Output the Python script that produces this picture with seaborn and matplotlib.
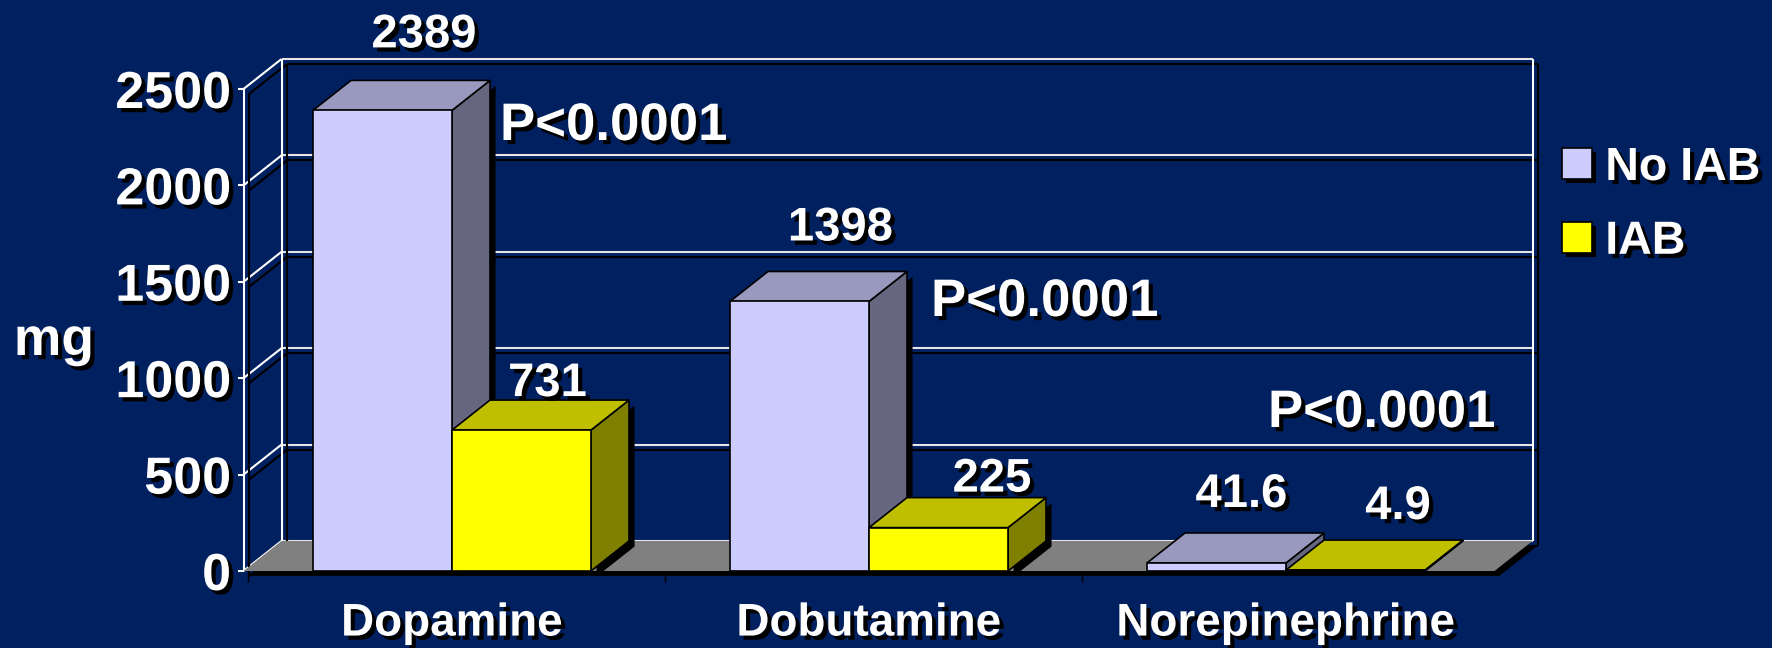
import matplotlib
matplotlib.use("Agg")
import matplotlib.pyplot as plt
import matplotlib.patheffects as pe
from matplotlib.patches import Polygon
import pandas as pd
import seaborn as sns

drugs = ["Dopamine", "Dobutamine", "Norepinephrine"]
groups = ["No IAB", "IAB"]
no_iab = [2389, 1398, 41.6]
iab = [731, 225, 4.9]
no_iab_labels = ["2389", "1398", "41.6"]
iab_labels = ["731", "225", "4.9"]
y_ticks = [0, 500, 1000, 1500, 2000, 2500]
p_values = ["P<0.0001", "P<0.0001", "P<0.0001"]

W, H = 1772, 648
BG = "#002060"
FONT = "Liberation Sans"

# how far back the 3d box goes, data units
DX = 38 / 417
DY = 30 / (482 / 2500)

df = pd.DataFrame({
    "drug": drugs * 2,
    "group": [groups[0]] * 3 + [groups[1]] * 3,
    "mg": no_iab + iab,
})

sns.set_theme(style="white")
plt.rcParams["font.family"] = [FONT, "DejaVu Sans"]
plt.rcParams["font.weight"] = "bold"

fig = plt.figure(figsize=(W / 100, H / 100), dpi=100, facecolor=BG)
ax = fig.add_axes([243.5 / W, 1 - 571 / H, 1251 / W, 482 / H])
ax.set_facecolor("none")

sns.barplot(data=df, x="drug", y="mg", hue="group", order=drugs, hue_order=groups,
            palette=["#CCCCFF", "#FFFF00"], saturation=1, width=2 / 3, gap=0,
            errorbar=None, edgecolor="black", linewidth=1.2, zorder=5, ax=ax)
sns.despine(ax=ax, left=True, bottom=True)

text_fx = [pe.withSimplePatchShadow(offset=(3, -3), shadow_rgbFace="black", alpha=1)]
line_fx = [pe.SimpleLineShadow(offset=(4, -3.6), shadow_color="black", alpha=1), pe.Normal()]


def wall_line(xs, ys, color="#E6E6E6"):
    ax.plot(xs, ys, color=color, lw=1.5, clip_on=False, zorder=1, path_effects=line_fx,
            solid_capstyle="butt")


# floor
floor = Polygon([(-0.5, 0), (2.5, 0), (2.5 + DX, DY), (-0.5 + DX, DY)], closed=True,
                facecolor="#808080", edgecolor="none", clip_on=False, zorder=2,
                path_effects=[pe.withSimplePatchShadow(offset=(3.5, -3.5),
                                                       shadow_rgbFace="black", alpha=1)])
ax.add_patch(floor)

# walls
for t in y_ticks:
    wall_line([-0.5 + DX, 2.5 + DX], [t + DY, t + DY])
    wall_line([-0.5, -0.5 + DX], [t, t + DY], color="white")
wall_line([-0.5, -0.5], [0, 2500], color="white")
wall_line([-0.5 + DX, -0.5 + DX], [DY, 2500 + DY], color="white")
wall_line([2.5 + DX, 2.5 + DX], [DY, 2500 + DY], color="white")

# depth faces, left to right so the later bar sits over the earlier one
top_colors = {"#CCCCFF": "#9999BF", "#FFFF00": "#BFBF00"}
side_colors = {"#CCCCFF": "#666680", "#FFFF00": "#808000"}
bars = []
for cont, light in zip(ax.containers, ["#CCCCFF", "#FFFF00"]):
    for b in cont:
        bars.append((b, light))
bars.sort(key=lambda item: item[0].get_x())
for i, (b, light) in enumerate(bars):
    x0, x1 = b.get_x(), b.get_x() + b.get_width()
    h = b.get_height()
    # the flat bars throw no visible shadow in the original
    fx = []
    if h > 100:
        fx = [pe.withSimplePatchShadow(offset=(4, -4), shadow_rgbFace="black", alpha=1)]
    side = Polygon([(x1, 0), (x1 + DX, DY), (x1 + DX, h + DY), (x1, h)], closed=True,
                   facecolor=side_colors[light], edgecolor="black", lw=1.2, clip_on=False,
                   zorder=3 + i * 0.01, path_effects=fx)
    top = Polygon([(x0, h), (x1, h), (x1 + DX, h + DY), (x0 + DX, h + DY)], closed=True,
                  facecolor=top_colors[light], edgecolor="black", lw=1.2, clip_on=False,
                  zorder=3.005 + i * 0.01)
    ax.add_patch(side)
    ax.add_patch(top)

# value labels sit by hand in the original, offsets in pixels from the bar top
label_offsets = {
    "2389": (41.5, 75), "1398": (41, 73), "41.6": (25, 68),
    "731": (26, 46), "225": (53.5, 48), "4.9": (42.5, 63),
}
for cont, labels in zip(ax.containers, [no_iab_labels, iab_labels]):
    for b, lab in zip(cont, labels):
        ax.annotate(lab, (b.get_x() + b.get_width() / 2, b.get_height()),
                    xytext=label_offsets[lab], textcoords="offset pixels",
                    ha="center", va="center", fontsize=34, fontweight="bold", color="white",
                    annotation_clip=False, zorder=10, path_effects=text_fx)

# p values
p_spots = [(500, 126), (931, 302), (1268, 413)]
for txt, (px, py) in zip(p_values, p_spots):
    fig.text(px / W, 1 - py / H, txt, ha="left", va="center", fontsize=38,
             fontweight="bold", color="white", path_effects=text_fx)

# axes text
ax.set_yticks(y_ticks)
# the small marks under the floor sit a little right of the category edges
ax.set_xticks([e + 4.5 / 417 for e in (-0.5, 0.5, 1.5, 2.5)], minor=True)
# set_xticks widens the view, so limits go after it
ax.set_xlim(-0.5, 2.5)
ax.set_ylim(0, 2500)
ax.tick_params(axis="y", colors="white", length=4, width=1.5, labelsize=37.5, pad=5, left=True)
ax.tick_params(axis="x", which="major", length=0, labelcolor="white", labelsize=33, pad=22)
ax.tick_params(axis="x", which="minor", length=8, width=1, color="black", bottom=True)
for lab in ax.get_yticklabels() + ax.get_xticklabels():
    lab.set_fontweight("bold")
    lab.set_path_effects(text_fx)
ax.set_xlabel("")
ax.set_ylabel("mg", rotation=0, fontsize=38.5, fontweight="bold", color="white",
              path_effects=text_fx, va="center", ha="center")
ax.yaxis.set_label_coords((54 - 243.5) / 1251, (571 - 341) / 482)

sns.move_legend(ax, loc="upper left", bbox_to_anchor=(1562 / W, 1 - 146 / H),
                bbox_transform=fig.transFigure, frameon=False, title=None, fontsize=33.5,
                labelcolor="white", handlelength=0.65, handleheight=0.65, handletextpad=0.28,
                labelspacing=0.64, borderpad=0, borderaxespad=0)
leg = ax.get_legend()
for t in leg.get_texts():
    t.set_fontweight("bold")
    t.set_path_effects(text_fx)
for handle in leg.get_patches():
    handle.set_path_effects(text_fx)

plt.savefig("out.png", dpi=100, facecolor=BG)
